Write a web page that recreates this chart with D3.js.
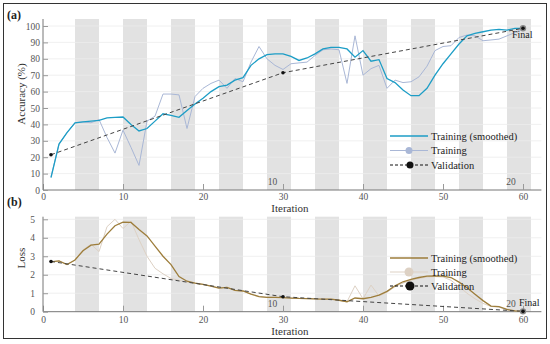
<!DOCTYPE html>
<html>
<head>
<meta charset="utf-8">
<script src="https://cdn.jsdelivr.net/npm/d3@7/dist/d3.min.js"></script>
<style>
  body { margin: 0; background: #fff; }
  svg { display: block; }
  svg text { font-family: "Liberation Serif", "Times New Roman", "DejaVu Serif", serif; }
</style>
</head>
<body>
<svg id="chart" width="550" height="344"></svg>
<script>
/* Data */
const iterations = d3.range(1, 61);

// accuracy (%), panel (a)
const accSmoothed = [7.5, 28, 35, 41, 41.5, 42, 42.5, 44, 44.3, 44.5, 40, 36, 37.5, 42, 46.5, 45.5, 44.3, 48.5, 52.5, 56,
  60, 63, 64, 67, 68.5, 76, 80, 82.5, 83, 83, 81.5, 79, 80.5, 83, 86, 87, 87, 86, 81, 85,
  78.5, 79.5, 68, 65.5, 61, 57.5, 57.5, 62, 70, 77, 83, 89, 94, 95.5, 96.5, 97.5, 98, 97.5, 98.5, 98.6];
const accRaw = [8, 28, 35, 41, 41.5, 41, 43, 32, 22.5, 36.5, 26, 15, 42, 45, 58.5, 58.5, 58, 37.5, 57, 62,
  65, 67, 62, 68, 66, 78, 87.5, 80, 76, 73.5, 77, 77.5, 78, 82, 85.5, 86, 85.5, 65, 94, 70,
  74, 76, 62, 67, 65.5, 66, 69, 75.5, 85, 87.5, 88, 93, 94.5, 94, 91, 91.5, 92, 94, 96, 98.6];

// loss, panel (b)
const lossSmoothed = [2.7, 2.75, 2.55, 2.8, 3.3, 3.6, 3.65, 4.2, 4.65, 4.85, 4.83, 4.45, 4.1, 3.55, 3.0, 2.55, 1.9, 1.65, 1.55, 1.48,
  1.38, 1.28, 1.32, 1.15, 1.12, 0.95, 0.82, 0.78, 0.78, 0.76, 0.74, 0.72, 0.71, 0.69, 0.68, 0.68, 0.62, 0.54, 0.74, 0.7,
  0.78, 0.9, 1.1, 1.4, 1.62, 1.75, 1.85, 1.92, 1.94, 1.93, 1.85, 1.6, 1.3, 0.95, 0.6, 0.3, 0.27, 0.12, 0.04, 0.02];
const lossRaw = [2.7, 2.75, 2.55, 2.8, 3.35, 3.65, 3.25, 4.6, 5.0, 4.5, 4.9, 3.9, 3.0, 2.35, 2.05, 1.8, 1.7, 1.6, 1.55, 1.48,
  1.38, 1.28, 1.32, 1.15, 1.12, 0.95, 0.82, 0.78, 0.78, 0.76, 0.74, 0.72, 0.71, 0.69, 0.68, 0.68, 0.62, 0.54, 1.4, 0.7,
  1.44, 0.85, 1.05, 1.35, 1.55, 1.7, 1.8, 1.88, 1.9, 1.88, 1.7, 1.35, 1.0, 0.7, 0.45, 0.28, 0.25, 0.1, 0.04, 0.02];

// validation checkpoints
const valIterations = [1, 30, 60];
const valAcc = [21.5, 71.5, 98.6];
const valLoss = [2.72, 0.81, 0.02];

// shaded iteration bands
const bandStarts = [4, 10, 16, 22, 28, 34, 40, 46, 52, 58];
const bandWidth = 3;

const xTicks = [0, 10, 20, 30, 40, 50, 60];
const accTicks = d3.range(0, 101, 10);
const lossTicks = [0, 1, 2, 3, 4, 5];

// secondary labels inside the plot
const innerLabels = [{ at: 28.7, text: "10" }, { at: 58.5, text: "20" }];

/* Layout */
const svg = d3.select("#chart");
const font = "Liberation Serif, Times New Roman, DejaVu Serif, serif";
const grey = "#555";

svg.append("rect")
  .attr("x", 3.5).attr("y", 3.5)
  .attr("width", 543).attr("height", 335)
  .attr("fill", "none").attr("stroke", "#333").attr("stroke-width", 1);

const x = d3.scaleLinear().domain([0, 60]).range([43, 523]);
const xMax = 62.3;

function panel(opts) {
  const g = svg.append("g").attr("font-family", font);
  const y = opts.y;
  const top = opts.top, bottom = y(0);

  // bands
  g.selectAll("rect.band").data(bandStarts).join("rect")
    .attr("class", "band")
    .attr("x", d => x(d)).attr("y", top)
    .attr("width", d => x(d + bandWidth) - x(d))
    .attr("height", bottom - top)
    .attr("fill", "#e2e2e2");

  // gridlines
  g.selectAll("line.grid").data(opts.ticks.slice(1)).join("line")
    .attr("class", "grid")
    .attr("x1", x(0)).attr("x2", x(xMax))
    .attr("y1", d => y(d)).attr("y2", d => y(d))
    .attr("stroke", "#ececec").attr("stroke-width", 0.8);

  // axes: inward ticks
  const xAxis = d3.axisBottom(x).tickValues(xTicks).tickSize(-6).tickPadding(opts.xPad);
  const xg = g.append("g").attr("transform", `translate(0,${bottom})`).call(xAxis);
  xg.select(".domain").attr("d", `M${x(0)},0H${x(xMax)}`);

  const yAxis = d3.axisLeft(y).tickValues(opts.ticks).tickFormat(d3.format("d"))
    .tickSize(-5).tickPadding(opts.yPad);
  const yg = g.append("g").attr("transform", `translate(${x(0)},0)`).call(yAxis);
  yg.select(".domain").attr("d", `M0,${top}V${bottom}`);

  [xg, yg].forEach(a => {
    a.attr("font-family", font);
    a.selectAll(".domain").attr("stroke", "#777");
    a.selectAll(".tick line").attr("stroke", "#999");
    a.selectAll(".tick text").attr("fill", grey).attr("font-size", 9.5);
  });

  // inner labels
  g.selectAll("text.inner").data(innerLabels).join("text")
    .attr("class", "inner")
    .attr("x", d => x(d.at)).attr("y", bottom - 5)
    .attr("text-anchor", "middle")
    .attr("fill", grey).attr("font-size", 9.5)
    .text(d => d.text);

  // axis titles
  g.append("text")
    .attr("x", 290).attr("y", bottom + opts.titleGap)
    .attr("text-anchor", "middle").attr("fill", "#333").attr("font-size", 11)
    .text("Iteration");
  g.append("text")
    .attr("transform", `translate(25,${opts.titleY}) rotate(-90)`)
    .attr("text-anchor", "middle").attr("fill", "#333").attr("font-size", 11)
    .text(opts.title);
  g.append("text")
    .attr("x", 7).attr("y", opts.tagY)
    .attr("font-weight", "bold").attr("fill", "#222").attr("font-size", 12)
    .text(opts.tag);

  // series
  const line = d3.line().x((d, i) => x(iterations[i])).y(d => y(d));
  g.append("path").datum(opts.raw)
    .attr("d", line).attr("fill", "none")
    .attr("stroke", opts.rawColor).attr("stroke-width", 1);
  g.append("path").datum(opts.smooth)
    .attr("d", line).attr("fill", "none")
    .attr("stroke", opts.smoothColor).attr("stroke-width", 1.3);

  const valLine = d3.line().x((d, i) => x(valIterations[i])).y(d => y(d));
  g.append("path").datum(opts.val)
    .attr("d", valLine).attr("fill", "none")
    .attr("stroke", "#444").attr("stroke-width", 1).attr("stroke-dasharray", "4,3");

  // final marker
  g.append("circle")
    .attr("cx", x(60)).attr("cy", y(opts.val[2]))
    .attr("r", 3.2).attr("fill", "#8a8a8a");
  g.selectAll("circle.val").data(opts.val).join("circle")
    .attr("class", "val")
    .attr("cx", (d, i) => x(valIterations[i])).attr("cy", d => y(d))
    .attr("r", 1.8).attr("fill", "#111");

  g.append("text")
    .attr("x", opts.finalX).attr("y", opts.finalY)
    .attr("fill", "#222").attr("font-size", 10)
    .text("Final");

  // legend
  const lg = g.append("g");
  const rows = ["Training (smoothed)", "Training", "Validation"];
  rows.forEach((label, i) => {
    const ly = opts.legendY + i * opts.legendStep;
    const ln = lg.append("line")
      .attr("x1", 390).attr("x2", 428).attr("y1", ly).attr("y2", ly);
    if (i === 0) ln.attr("stroke", opts.smoothColor).attr("stroke-width", 1.3);
    if (i === 1) {
      ln.attr("stroke", opts.rawColor).attr("stroke-width", 1);
      lg.append("circle").attr("cx", 409).attr("cy", ly).attr("r", opts.legendR).attr("fill", opts.rawColor);
    }
    if (i === 2) {
      ln.attr("stroke", "#111").attr("stroke-width", 1).attr("stroke-dasharray", "3,2");
      lg.append("circle").attr("cx", 410).attr("cy", ly).attr("r", opts.legendR).attr("fill", "#111");
    }
    lg.append("text")
      .attr("x", 431).attr("y", ly + 3.5)
      .attr("fill", "#222").attr("font-size", 10.5)
      .text(label);
  });
}

panel({
  y: d3.scaleLinear().domain([0, 100]).range([190, 26]),
  top: 19,
  ticks: accTicks,
  xPad: 3, yPad: 3, titleGap: 21.5,
  title: "Accuracy (%)", titleY: 94,
  tag: "(a)", tagY: 19,
  raw: accRaw, smooth: accSmoothed, val: valAcc,
  rawColor: "#a9b7d6", smoothColor: "#1c9dc6",
  finalX: 512, finalY: 38,
  legendY: 136, legendStep: 14.5, legendR: 3.5
});

panel({
  y: d3.scaleLinear().domain([0, 5]).range([311.7, 219.3]),
  top: 216.7,
  ticks: lossTicks,
  xPad: 4.5, yPad: 8, titleGap: 23.5,
  title: "Loss", titleY: 258,
  tag: "(b)", tagY: 206,
  raw: lossRaw, smooth: lossSmoothed, val: valLoss,
  rawColor: "#ddd1c4", smoothColor: "#9d7d3b",
  finalX: 519, finalY: 306,
  legendY: 258, legendStep: 14, legendR: 4.5
});
</script>
</body>
</html>
